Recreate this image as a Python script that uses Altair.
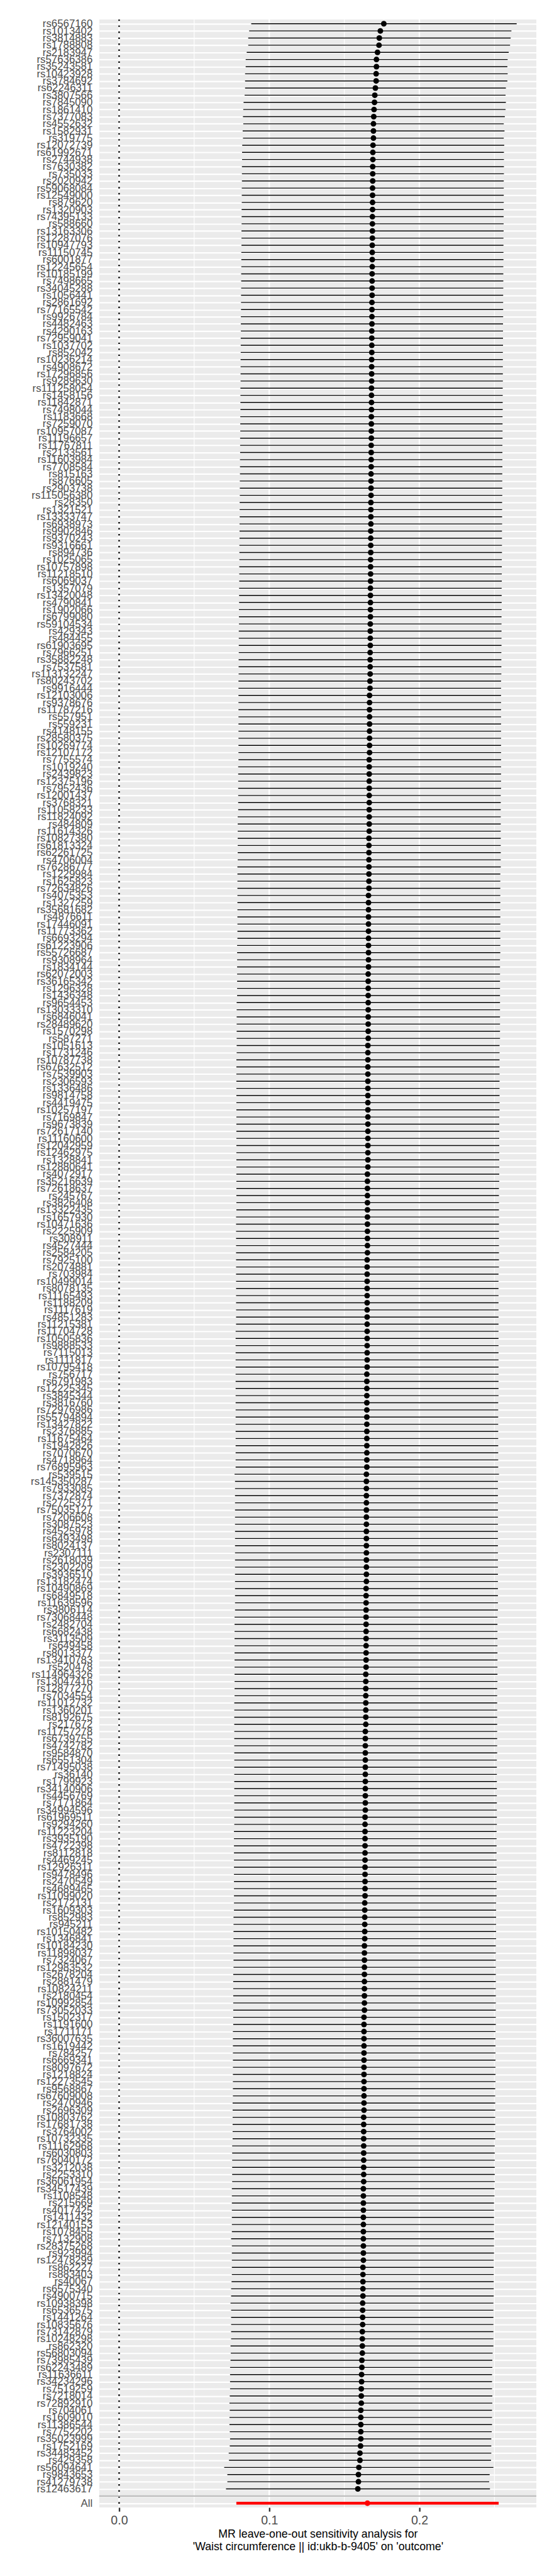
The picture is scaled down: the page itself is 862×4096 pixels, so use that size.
import altair as alt
import pandas as pd

# ---------------- data (values in units of 1e-4) ----------------
snps_a = ["rs6567160","rs1013402","rs3814883","rs1788808","rs2183947","rs57636386","rs35243581","rs10423928","rs3784692",
          "rs62246311","rs3807566","rs7845090","rs1861410","rs7377083","rs4552632","rs1582931","rs319775","rs12072739"]
b_a = [1763,1740,1733,1731,1721,1714,1714,1712,1712,1707,1703,1701,1698,1696,1694,1694,1694,1691]
lo_a = [880,866,860,860,850,843,843,839,839,839,836,829,827,825,827,823,825,820]
hi_a = [2648,2613,2608,2604,2595,2588,2586,2588,2586,2576,2574,2576,2574,2569,2562,2567,2562,2565]

snps_b = ["rs61992671","rs2744938","rs7630382","rs735033","rs2020942","rs59068084","rs12549000","rs879620","rs1320903",
          "rs74395133","rs588660","rs13163306","rs12287076","rs10947793","rs11150745","rs6001877","rs12245654","rs10185199",
          "rs7498665","rs34045288","rs1056441","rs2861692","rs77165542","rs9926784","rs4482463","rs4290163","rs72959041",
          "rs1037702","rs852042","rs10236214","rs4908672","rs17296856","rs9289630","rs111258054","rs1458156","rs11842871","rs7498044"]
b_b = [1690,1690,1689,1689,1689,1688,1688,1688,1688,1687,
       1687,1687,1687,1686,1686,1686,1686,1685,1685,1685,
       1685,1684,1684,1684,1684,1683,1683,1683,1683,1682,
       1682,1682,1682,1681,1681,1681,1681]
lo_b = [819,819,818,818,818,817,817,817,816,816,
        816,815,815,815,814,814,814,813,813,813,
        812,812,812,811,811,811,810,810,810,809,
        809,809,809,808,808,808,808]
hi_b = [2563,2563,2563,2563,2562,2562,2562,2562,2561,2561,
        2561,2561,2560,2560,2560,2560,2559,2559,2559,2559,
        2558,2558,2558,2558,2557,2557,2557,2557,2556,2556,
        2556,2556,2556,2555,2555,2555,2555]

snps_c = ["rs1183668","rs7259070","rs10957087","rs11196657","rs11767811","rs2133561","rs11603984","rs7708584","rs815163",
          "rs876605","rs2903738","rs115056380","rs28350","rs1321521","rs13333747","rs6938973","rs9902846","rs9370243",
          "rs9316661","rs894736","rs1025065","rs10757898","rs11218510","rs6069037","rs1357079","rs13420048","rs4790841",
          "rs1902066","rs6799080","rs59104534","rs429343","rs484455","rs61903695","rs7966251","rs35882248","rs7537581","rs113132247"]
b_c = [1680,1680,1680,1680,1679,1679,1679,1679,1678,1678,
       1678,1678,1677,1677,1677,1677,1676,1676,1676,1676,
       1675,1675,1675,1675,1674,1674,1674,1674,1674,1673,
       1673,1673,1673,1672,1672,1672,1672]
lo_c = [807,807,807,806,806,806,805,805,805,804,
        804,804,803,803,803,802,802,802,801,801,
        801,800,800,800,799,799,799,798,798,798,
        797,797,797,797,796,796,796]
hi_c = [2554,2554,2554,2554,2553,2553,2553,2553,2552,2552,
        2552,2552,2551,2551,2551,2551,2550,2550,2550,2550,
        2549,2549,2549,2549,2548,2548,2548,2548,2547,2547,
        2547,2547,2547,2546,2546,2546,2546]

snps_d = ["rs80243702","rs9916444","rs12103006","rs9378676","rs11787216","rs557951","rs559231","rs4148155","rs28580375",
          "rs10269774","rs12107172","rs7755574","rs1019240","rs2439823","rs12375196","rs7952436","rs12001437","rs3768321",
          "rs11058233","rs11824092","rs484809","rs11614326","rs10827380","rs61813324","rs62261725","rs4706004","rs76286777",
          "rs1229984","rs1625823","rs72634826","rs4075353"]
b_d = [1671,1671,1668,1668,1668,1668,1668,1668,1668,1668,
       1668,1666,1666,1666,1666,1666,1666,1666,1666,1666,
       1666,1666,1664,1664,1664,1664,1664,1664,1664,1664,1661]
lo_d = [795,795,795,795,795,795,795,795,795,795,
        795,795,793,793,793,793,793,793,793,790,
        790,790,790,790,790,790,788,788,788,788,788]
hi_d = [2544,2544,2544,2544,2544,2544,2544,2544,2544,2544,
        2544,2544,2544,2544,2544,2544,2542,2542,2542,2542,
        2542,2542,2542,2542,2542,2542,2542,2539,2539,2539,2539]

snps_e = ["rs1327259","rs35681682","rs4876611","rs17446091","rs11773362","rs6693294","rs61223906","rs55726687","rs9308964",
          "rs1834144","rs62072003","rs36165342","rs1296328","rs1436348","rs9654453","rs13033310","rs6846041","rs28489620",
          "rs1570298","rs587271","rs1051613","rs1731246","rs10787738","rs67632512","rs7539903","rs2306593","rs1336486",
          "rs9814758","rs4419475","rs10257197"]
b_e = [1661,1661,1661,1661,1661,1661,1661,1661,1661,1661,
       1659,1659,1659,1659,1659,1659,1659,1659,1659,1659,
       1657,1657,1657,1657,1657,1657,1657,1657,1657,1657]
lo_e = [788,788,788,788,788,788,786,786,786,786,
        786,786,786,786,783,783,783,783,783,783,
        783,783,781,781,781,781,781,781,781,781]
hi_e = [2539,2539,2539,2539,2539,2539,2539,2539,2537,2537,
        2537,2537,2537,2537,2537,2537,2537,2537,2537,2537,
        2534,2534,2534,2534,2534,2534,2534,2534,2534,2534]

snps_f = ["rs7169847","rs9673839","rs72617140","rs11160600","rs12042959","rs12462975","rs1328841","rs12880641","rs4072917",
          "rs35216639","rs72618637","rs245767","rs3826408","rs13322435","rs1657930","rs10471636","rs2225909","rs308911",
          "rs4527444","rs2584205","rs7925100","rs2074881","rs703984","rs10499014","rs8078135","rs11165493","rs1188209",
          "rs1117619","rs4851283","rs11215381"]
b_f = [1657,1657,1657,1657,1657,1657,1657,1657,1654,1654,
       1654,1654,1654,1654,1654,1654,1654,1654,1654,1654,
       1652,1652,1652,1652,1652,1652,1652,1652,1652,1652]
lo_f = [781,781,781,781,781,781,781,781,781,781,
        781,781,781,781,779,779,779,779,779,779,
        779,779,779,779,779,779,779,779,779,779]
hi_f = [2532,2532,2532,2532,2532,2532,2532,2532,2532,2532,
        2530,2530,2530,2530,2530,2530,2530,2530,2530,2530,
        2530,2530,2527,2527,2527,2527,2527,2527,2527,2527]

snps_g = ["rs11704728","rs10505836","rs9888533","rs7115013","rs1111817","rs10795418","rs756717","rs6791983","rs12225345",
          "rs3845344","rs3816760","rs72976986","rs55794894","rs13427822","rs2376885","rs11675464","rs1942826","rs7070670",
          "rs4718964","rs76895963","rs539515","rs145350287","rs7933085","rs7372874","rs2725371","rs75035127","rs7206608",
          "rs3087523","rs4525978","rs6493498"]
b_g = [1652,1652,1652,1652,1652,1652,1650,1650,1650,1650,
       1650,1650,1650,1650,1650,1650,1650,1650,1650,1650,
       1647,1647,1647,1647,1647,1647,1647,1647,1647,1647]
lo_g = [776,776,776,776,776,776,776,776,776,776,
        776,776,776,776,776,776,776,776,776,776,
        769,772,772,772,772,772,772,772,772,772]
hi_g = [2527,2527,2527,2527,2527,2527,2527,2527,2527,2527,
        2525,2525,2525,2525,2525,2525,2525,2525,2525,2525,
        2530,2523,2523,2523,2523,2523,2523,2523,2523,2523]

snps_h = ["rs8024137","rs2307111","rs2618039","rs2302209","rs3936510","rs13182474","rs10490869","rs6849518","rs11639596",
          "rs3806114","rs73068448","rs2482704","rs6682438","rs3113509","rs649458","rs8013377","rs13410783","rs520478",
          "rs114964326","rs13047416","rs12877270","rs7034554","rs11012732","rs1360201","rs8192675","rs217672","rs11757278",
          "rs6739755","rs4742782","rs9584870"]
b_h = [1647,1647,1647,1647,1647,1647,1645,1645,1645,1645,
       1645,1645,1645,1645,1645,1645,1645,1645,1643,1643,
       1643,1643,1643,1643,1643,1643,1640,1640,1640,1640]
lo_h = [772,772,772,772,772,772,772,772,772,772,
        769,769,769,769,769,769,769,769,769,769,
        769,769,767,767,767,767,767,767,767,767]
hi_h = [2523,2523,2523,2523,2523,2523,2523,2523,2523,2523,
        2520,2520,2520,2520,2520,2520,2520,2520,2520,2520,
        2518,2518,2518,2518,2518,2518,2518,2518,2518,2518]

snps_i = ["rs6551304","rs71495038","rs36140","rs1799923","rs34140906","rs4456769","rs7171864","rs34994596","rs61969511",
          "rs9294260","rs11223204","rs3935190","rs4722398","rs8112818","rs4469245","rs12926311","rs9478496","rs2470549",
          "rs4689465","rs11099020","rs2172131","rs1609303","rs852983","rs945211","rs10150482","rs1346841","rs10184230",
          "rs11898037","rs7324067","rs12983532"]
b_i = [1640,1640,1640,1640,1640,1640,1640,1640,1638,1638,
       1638,1638,1638,1638,1638,1638,1638,1638,1638,1638,
       1636,1636,1636,1636,1636,1636,1634,1634,1634,1634]
lo_i = [767,767,767,767,767,767,767,767,767,767,
        765,765,765,765,765,765,765,765,765,765,
        765,765,762,762,762,762,762,762,762,762]
hi_i = [2516,2516,2516,2516,2516,2516,2516,2516,2516,2516,
        2514,2514,2514,2514,2514,2514,2514,2514,2514,2514,
        2511,2511,2511,2511,2511,2511,2509,2509,2509,2509]

snps_j = ["rs2678204","rs2881479","rs10824211","rs2180454","rs10992854","rs73052033","rs1502317","rs1191600","rs1711171",
          "rs36007635","rs1619442","rs784257","rs6669341","rs8097672","rs1218824","rs12273545","rs9568867","rs67609008",
          "rs2470946","rs2696309","rs10803762","rs17681738","rs3764002","rs10732335","rs11162968","rs6030803","rs76040172",
          "rs3212038","rs2253310","rs36061954"]
b_j = [1634,1634,1634,1634,1634,1634,1631,1631,1631,1631,
       1631,1631,1631,1631,1631,1631,1631,1631,1631,1631,
       1629,1629,1629,1629,1629,1629,1629,1629,1629,1629]
lo_j = [760,760,760,760,760,760,760,760,758,758,
        758,758,758,758,758,758,758,758,756,756,
        756,756,756,756,753,753,753,753,753,753]
hi_j = [2509,2509,2509,2509,2509,2509,2509,2509,2507,2507,
        2507,2507,2507,2507,2507,2507,2505,2505,2505,2505,
        2505,2505,2505,2505,2502,2502,2502,2502,2502,2502]

snps_k = ["rs34517439","rs1108548","rs215669","rs4017425","rs1411432","rs12140153","rs1078455","rs7132908","rs28375268",
          "rs923994","rs12478299","rs862227","rs883403","rs40067","rs6575340","rs4900715","rs10938398","rs6536575",
          "rs1441264","rs10835676","rs73142879","rs10248298","rs862320","rs56803094","rs73985439","rs62243489","rs11636611",
          "rs34234296","rs7519259","rs7218014"]
b_k = [1627,1627,1627,1627,1627,1627,1627,1627,1627,1627,
       1627,1624,1624,1624,1624,1624,1622,1622,1622,1622,
       1620,1620,1620,1620,1617,1617,1615,1615,1613,1613]
lo_k = [751,751,751,751,751,751,751,746,751,751,
        751,751,751,749,746,746,742,746,746,746,
        746,746,742,744,742,739,739,739,739,737]
hi_k = [2500,2500,2497,2497,2497,2497,2497,2497,2497,2497,
        2495,2495,2495,2495,2495,2495,2493,2493,2493,2493,
        2493,2493,2493,2488,2486,2486,2484,2484,2484,2486]

snps_l = ["rs72892910","rs704061","rs1609010","rs11386544","rs7752202","rs35023999","rs1752169","rs34483452","rs429358",
          "rs56094641","rs9843653","rs41279738","rs12463617"]
b_l = [1613,1610,1610,1610,1610,1610,1608,1604,1604,1597,1594,1594,1590]
lo_l = [735,737,735,735,737,739,737,730,732,700,721,721,712]
hi_l = [2486,2484,2484,2484,2482,2479,2479,2479,2477,2493,2468,2465,2470]

all_label = "All"
all_b, all_lo, all_hi = 1654, 781, 2528

major_x = [0.0, 0.1, 0.2]
minor_x = [0.05, 0.15, 0.25]
zero_x = [0.0]

title_lines = ["MR leave-one-out sensitivity analysis for",
               "'Waist circumference || id:ukb-b-9405' on 'outcome'"]

# ---------------- assemble ----------------
segs = [(snps_a, b_a, lo_a, hi_a), (snps_b, b_b, lo_b, hi_b), (snps_c, b_c, lo_c, hi_c),
        (snps_d, b_d, lo_d, hi_d), (snps_e, b_e, lo_e, hi_e), (snps_f, b_f, lo_f, hi_f),
        (snps_g, b_g, lo_g, hi_g), (snps_h, b_h, lo_h, hi_h), (snps_i, b_i, lo_i, hi_i),
        (snps_j, b_j, lo_j, hi_j), (snps_k, b_k, lo_k, hi_k), (snps_l, b_l, lo_l, hi_l)]
snps, bs, los, his = [], [], [], []
for s, b, lo, hi in segs:
    assert len(s) == len(b) == len(lo) == len(hi), (s[0], len(s), len(b), len(lo), len(hi))
    snps += s; bs += b; los += lo; his += hi

df = pd.DataFrame({
    "snp": snps + [all_label],
    "b": [v / 1e4 for v in bs + [all_b]],
    "lo": [v / 1e4 for v in los + [all_lo]],
    "hi": [v / 1e4 for v in his + [all_hi]],
    "grp": ["snp"] * len(snps) + ["all"],
})
order = snps + [" ", all_label]

FONT = "Liberation Sans"
xscale = alt.Scale(domain=[-0.01324, 0.2779], nice=False, zero=False)
yscale = alt.Scale(type="point", domain=order, padding=0.6)

xaxis = alt.Axis(values=major_x, format=".1f", grid=False, domain=False,
                 ticks=True, tickSize=6.2, tickWidth=2.4, tickColor="#333333",
                 labelFontSize=19.7, labelColor="#4D4D4D", labelFont=FONT, labelPadding=4.6,
                 title=title_lines, titleFont=FONT, titleFontSize=17.9, titleFontWeight="normal",
                 titleColor="black", titleY=47.9, titleBaseline="alphabetic", titleLineHeight=19.8)
yaxis = alt.Axis(title=None, domain=False, ticks=False, tickSize=0, labelPadding=11.1,
                 labelFontSize=17, labelColor="#4D4D4D", labelFont=FONT, labelLimit=400,
                 labelOverlap=False, grid=True, gridColor="white", gridWidth=2.2)

X = lambda f: alt.X(f, scale=xscale, axis=xaxis)
Y = alt.Y("snp:N", scale=yscale, axis=yaxis)

minor = alt.Chart(pd.DataFrame({"v": minor_x})).mark_rule(color="white", strokeWidth=1.2).encode(x=X("v:Q"))
major = alt.Chart(pd.DataFrame({"v": major_x})).mark_rule(color="white", strokeWidth=2.4).encode(x=X("v:Q"))
zero = alt.Chart(pd.DataFrame({"v": zero_x})).mark_rule(
    color="black", strokeWidth=2.4, strokeDash=[2.4, 7.2]).encode(x=X("v:Q"))

base = alt.Chart(df)
ci = base.transform_filter(alt.datum.grp == "snp").mark_rule(color="black", strokeWidth=1.4).encode(
    x=X("lo:Q"), x2="hi:Q", y=Y)
ci_all = base.transform_filter(alt.datum.grp == "all").mark_rule(color="#FF0000", strokeWidth=4.6).encode(
    x=X("lo:Q"), x2="hi:Q", y=Y)
pts = base.transform_filter(alt.datum.grp == "snp").mark_circle(color="black", size=82, opacity=1).encode(
    x=X("b:Q"), y=Y)
pts_all = base.transform_filter(alt.datum.grp == "all").mark_circle(color="#FF0000", size=82, opacity=1).encode(
    x=X("b:Q"), y=Y)
hline = alt.Chart(pd.DataFrame({"snp": [" "]})).mark_rule(color="#BEBEBE", strokeWidth=2.4).encode(y=Y)

chart = alt.layer(minor, major, zero, ci, ci_all, pts, pts_all, hline).properties(
    width=701.6, height=3992.5,
    padding={"left": 151.2, "top": 4.4, "right": 1, "bottom": 80},
    autosize=alt.AutoSizeParams(type="none"),
).configure_view(fill="#EBEBEB", strokeWidth=0)

chart.save("out.html", embed_options={"renderer": "svg", "actions": False})
